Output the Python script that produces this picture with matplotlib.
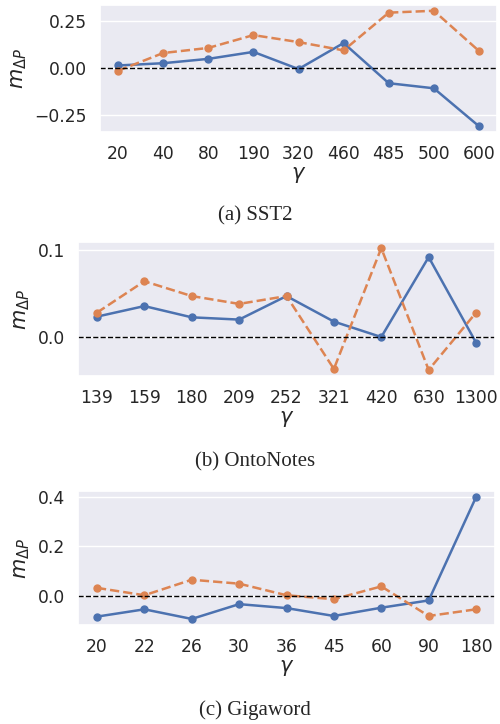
import matplotlib
matplotlib.use('Agg')
import matplotlib.pyplot as plt
import seaborn as sns

# gamma values (categorical ticks) and m_dP values per dataset
sst2_gamma = ['20', '40', '80', '190', '320', '460', '485', '500', '600']
sst2_blue = [0.014, 0.026, 0.049, 0.086, -0.005, 0.133, -0.080, -0.107, -0.308]
sst2_orange = [-0.014, 0.080, 0.107, 0.175, 0.138, 0.094, 0.294, 0.304, 0.091]

onto_gamma = ['139', '159', '180', '209', '252', '321', '420', '630', '1300']
onto_blue = [0.0234, 0.0355, 0.0226, 0.020, 0.047, 0.0177, 0.0, 0.0917, -0.0064]
onto_orange = [0.028, 0.064, 0.047, 0.038, 0.047, -0.0366, 0.102, -0.0377, 0.028]

giga_gamma = ['20', '22', '26', '30', '36', '45', '60', '90', '180']
giga_blue = [-0.0856, -0.056, -0.095, -0.035, -0.051, -0.083, -0.0495, -0.020, 0.399]
giga_orange = [0.031, 0.001, 0.064, 0.048, 0.001, -0.015, 0.037, -0.083, -0.056]

captions = ['(a) SST2', '(b) OntoNotes', '(c) Gigaword']

sns.set_theme(style='darkgrid')
plt.rcParams['font.family'] = ['DejaVu Sans']
blue, orange = sns.color_palette('deep')[0], sns.color_palette('deep')[1]

fig = plt.figure(figsize=(5, 7.24), dpi=100)

# axes boxes [left, bottom, width, height] in figure fraction
boxes = [
    [0.200, 0.8177, 0.794, 0.1754],
    [0.156, 0.4807, 0.834, 0.1850],
    [0.156, 0.1367, 0.834, 0.1851],
]
caption_y = [0.7017, 0.3619, 0.0193]

panels = [
    (sst2_gamma, sst2_blue, sst2_orange, [-0.25, 0.0, 0.25], ['\u22120.25', '0.00', '0.25']),
    (onto_gamma, onto_blue, onto_orange, [0.0, 0.1], ['0.0', '0.1']),
    (giga_gamma, giga_blue, giga_orange, [0.0, 0.2, 0.4], ['0.0', '0.2', '0.4']),
]

for box, (gam, yb, yo, yt, ytl), cap, cy in zip(boxes, panels, captions, caption_y):
    ax = fig.add_axes(box)
    x = list(range(len(gam)))
    ax.plot(x, yb, '-o', color=blue, lw=1.8, markersize=5)
    ax.plot(x, yo, '--o', color=orange, lw=1.8, markersize=5)
    ax.axhline(0, color='black', ls='--', lw=1)
    ax.set_xticks(x)
    ax.set_xticklabels(gam, fontsize=12.3)
    ax.set_yticks(yt)
    ax.set_yticklabels(ytl, fontsize=12.3)
    ax.grid(axis='x', visible=False)
    ax.set_xlabel(r'$\gamma$', fontsize=15, labelpad=1)
    ax.set_ylabel(r'$m_{\Delta P}$', fontsize=15)
    fig.text(0.51, cy, cap, ha='center', va='center', fontsize=15,
             family='Liberation Serif')

fig.savefig('out.png', dpi=100)
